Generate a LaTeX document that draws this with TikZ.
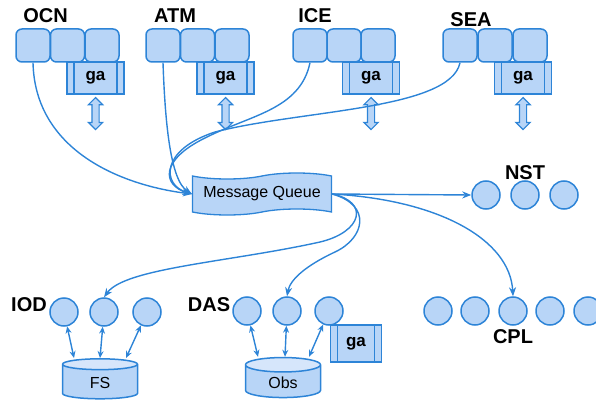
\documentclass[tikz,border=0pt]{standalone}
\usepackage{fontspec}
\setmainfont{Liberation Sans}
\usepackage{tikz}
\usetikzlibrary{positioning}
\usetikzlibrary{arrows.meta,shapes.geometric,shapes.symbols,shapes.arrows}

\definecolor{qline}{RGB}{45,132,215}
\definecolor{qfill}{RGB}{184,213,247}
\definecolor{qtop}{RGB}{214,230,251}

\tikzset{
  comp/.style={draw=qline, fill=qfill, line width=1.5pt, rounded corners=6pt, minimum width=34pt, minimum height=33pt, inner sep=0pt},
  gabox/.style={draw=qline, fill=qfill, line width=1.5pt, minimum width=57pt, minimum height=32pt, inner sep=0pt, font=\bfseries\fontsize{17}{17}\selectfont,
    path picture={\draw[qline, line width=1.5pt] ([xshift=7pt]path picture bounding box.north west) -- ([xshift=7pt]path picture bounding box.south west)
      ([xshift=-7pt]path picture bounding box.north east) -- ([xshift=-7pt]path picture bounding box.south east);}},
  garrow/.style={double arrow, draw=qline, fill=qfill, line width=1.2pt, shape border rotate=90, minimum height=32pt, minimum width=13pt, inner sep=3pt, double arrow head extend=3.5pt},
  proc/.style={circle, draw=qline, fill=qfill, line width=1.5pt, minimum size=28pt, inner sep=0pt},
  lbl/.style={font=\bfseries\fontsize{20}{20}\selectfont},
  queue/.style={tape, draw=qline, fill=qfill, line width=1.3pt, minimum width=139pt, minimum height=42pt, tape bend height=6pt, font=\fontsize{16}{16}\selectfont},
  store/.style={cylinder, shape border rotate=90, aspect=0.4, draw=qline, line width=1.5pt, cylinder uses custom fill, cylinder body fill=qfill, cylinder end fill=qtop, minimum width=75pt, minimum height=40pt, font=\fontsize{16}{16}\selectfont},
  flow/.style={qline, line width=1.4pt, -{Stealth[length=9pt,width=7pt]}},
  link/.style={qline, line width=1.4pt, {Stealth[length=7pt,width=6pt]}-{Stealth[length=7pt,width=6pt]}}
}

\begin{document}
\begin{tikzpicture}[x=1pt,y=1pt,yscale=-1,xscale=1]
\useasboundingbox (0,0) rectangle (596,406);

%Components: OCN
\node[comp] (ocn1) at (33,45.5) {};
\node[comp] (ocn2) at (67.5,45.5) {};
\node[comp] (ocn3) at (102,45.5) {};
\node[gabox] (ocnga) at (95.5,78) {ga};
\node[garrow, below=2pt of ocnga] (ocnio) {};
% Text Node
\node[lbl] (ocnlbl) at (45.5,16) {OCN};

%Components: ATM
\node[comp] (atm1) at (163,45.5) {};
\node[comp] (atm2) at (197.5,45.5) {};
\node[comp] (atm3) at (232,45.5) {};
\node[gabox] (atmga) at (225.5,78) {ga};
\node[garrow, below=2pt of atmga] (atmio) {};
% Text Node
\node[lbl] (atmlbl) at (175,16) {ATM};

%Components: ICE
\node[comp] (ice1) at (310,45.5) {};
\node[comp] (ice2) at (344,45.5) {};
\node[comp] (ice3) at (378,45.5) {};
\node[gabox] (icega) at (371,78) {ga};
\node[garrow, below=2pt of icega] (iceio) {};
% Text Node
\node[lbl] (icelbl) at (315,16) {ICE};

%Components: SEA
\node[comp] (sea1) at (460,45.5) {};
\node[comp] (sea2) at (495,45.5) {};
\node[comp] (sea3) at (530,45.5) {};
\node[gabox] (seaga) at (523,78) {ga};
\node[garrow, below=2pt of seaga] (seaio) {};
% Text Node
\node[lbl] (sealbl) at (471,19.5) {SEA};

%Shape: Message Queue
\node[queue] (mq) at (262,194) {Message Queue};

%Circles: NST
\node[proc] (nst1) at (486,195) {};
\node[proc] (nst2) at (525,195) {};
\node[proc] (nst3) at (564,195) {};
\node[lbl] (nstlbl) at (525,173) {NST};

%Circles: CPL
\node[proc] (cpl1) at (438,311) {};
\node[proc] (cpl2) at (475,311) {};
\node[proc] (cpl3) at (513,311) {};
\node[proc] (cpl4) at (550,311) {};
\node[proc] (cpl5) at (588,311) {};
\node[lbl] (cpllbl) at (513,337) {CPL};

%Circles: IOD
\node[proc] (iod1) at (64,312) {};
\node[proc] (iod2) at (104,312) {};
\node[proc] (iod3) at (147,312) {};
\node[lbl] (iodlbl) at (29,305) {IOD};
\node[store] (fs) at (100,383) {FS};

%Circles: DAS
\node[proc] (das1) at (247,311) {};
\node[proc] (das2) at (287,311) {};
\node[proc] (das3) at (329,311) {};
\node[lbl] (daslbl) at (209,305) {DAS};
\node[store] (obs) at (283,383) {Obs};
\node[gabox, minimum width=51pt, minimum height=37pt] (dasga) at (356,343.5) {ga};

%Curve Lines: into the queue
\draw[flow] (ocn1.south) .. controls (35,150) and (120,185) .. (mq.west);
\draw[flow] (atm1.south) .. controls (165,120) and (170,180) .. (mq.west);
\draw[flow] (ice1.south) .. controls (300,110) and (250,115) .. (205,138) .. controls (160,160) and (162,185) .. (mq.west);
\draw[flow] (sea1.south) .. controls (450,110) and (300,110) .. (215,132) .. controls (160,150) and (162,185) .. (mq.west);

%Curve Lines: out of the queue
\draw[flow] (mq.east) -- (nst1.west);
\draw[flow] (mq.east) .. controls (440,200) and (510,240) .. (cpl3.north);
\draw[flow] (mq.east) .. controls (370,202) and (362,232) .. (320,242) .. controls (230,262) and (125,268) .. (iod2.north);
\draw[flow] (mq.east) .. controls (372,205) and (365,238) .. (335,252) .. controls (305,266) and (290,280) .. (das2.north);

%Straight Lines: stores
\draw[link] ([xshift=-26pt]fs.north) -- (iod1);
\draw[link] (fs.north) -- (iod2);
\draw[link] ([xshift=26pt]fs.north) -- (iod3);
\draw[link] ([xshift=-25pt]obs.north) -- (das1);
\draw[link] ([xshift=2pt]obs.north) -- (das2);
\draw[link] ([xshift=26pt]obs.north) -- (das3);

\end{tikzpicture}
\end{document}
